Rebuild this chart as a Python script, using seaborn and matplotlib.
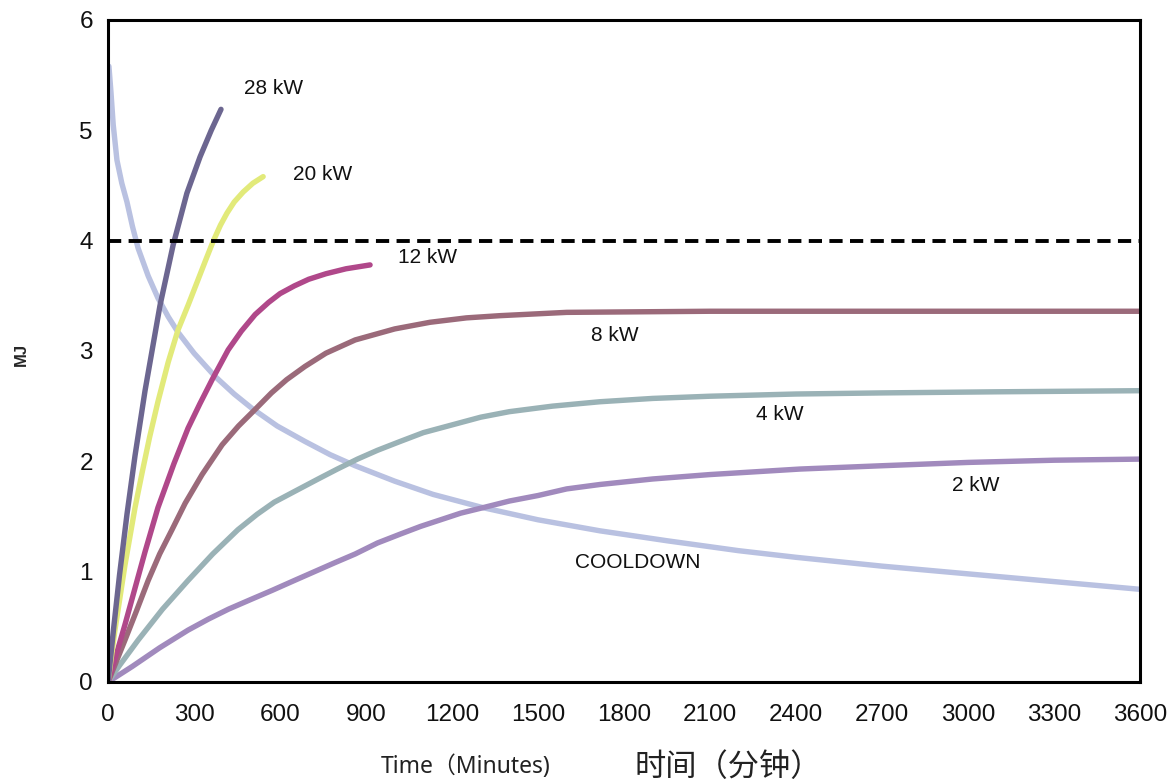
import matplotlib
matplotlib.use("Agg")
import matplotlib.pyplot as plt
import seaborn as sns
import pandas as pd

# Values (time in minutes, energy in MJ)
t_28kw = [0, 20, 40, 66, 94, 129, 181, 227, 275, 321, 360, 394]
mj_28kw = [0, 0.50, 0.97, 1.52, 2.05, 2.64, 3.41, 3.96, 4.43, 4.76, 5.00, 5.19]

t_20kw = [0, 24, 59, 94, 119, 145, 174, 210, 244, 280, 310, 340, 366, 392, 415, 440, 471, 505, 541]
mj_20kw = [0, 0.47, 1.06, 1.58, 1.90, 2.22, 2.54, 2.90, 3.19, 3.42, 3.62, 3.82, 3.99, 4.14, 4.25,
           4.35, 4.44, 4.52, 4.58]

t_12kw = [0, 30, 59, 95, 129, 174, 230, 279, 320, 363, 419, 465, 513, 560, 600, 650, 700, 760, 830, 914]
mj_12kw = [0, 0.26, 0.52, 0.86, 1.18, 1.58, 1.98, 2.30, 2.52, 2.74, 3.01, 3.18, 3.33, 3.44, 3.52,
           3.59, 3.65, 3.70, 3.745, 3.78]

t_8kw = [0, 59, 100, 140, 180, 223, 269, 328, 398, 455, 513, 570, 623, 687, 760, 862, 1000, 1123,
         1250, 1367, 1600, 2100, 3600]
mj_8kw = [0, 0.38, 0.65, 0.92, 1.16, 1.38, 1.62, 1.88, 2.15, 2.32, 2.47, 2.62, 2.74, 2.86, 2.98,
          3.10, 3.20, 3.26, 3.30, 3.32, 3.35, 3.36, 3.36]

t_4kw = [0, 40, 105, 190, 279, 365, 453, 520, 580, 660, 733, 800, 870, 940, 1019, 1100, 1200, 1300,
         1400, 1550, 1716, 1900, 2100, 2400, 2700, 3100, 3600]
mj_4kw = [0, 0.15, 0.38, 0.66, 0.92, 1.16, 1.38, 1.52, 1.63, 1.74, 1.84, 1.93, 2.02, 2.10, 2.18,
          2.26, 2.33, 2.40, 2.45, 2.50, 2.54, 2.57, 2.59, 2.61, 2.62, 2.63, 2.64]

t_2kw = [0, 84, 180, 279, 350, 420, 500, 572, 650, 720, 790, 862, 940, 1019, 1090, 1160, 1230, 1308,
         1400, 1500, 1600, 1716, 1900, 2100, 2414, 2700, 3000, 3300, 3600]
mj_2kw = [0, 0.14, 0.31, 0.47, 0.57, 0.66, 0.75, 0.83, 0.92, 1.00, 1.08, 1.16, 1.26, 1.34, 1.41,
          1.47, 1.53, 1.58, 1.64, 1.69, 1.75, 1.79, 1.84, 1.88, 1.93, 1.96, 1.99, 2.01, 2.02]

t_cool = [3, 10, 18, 31, 48, 66, 85, 105, 140, 174, 210, 244, 300, 373, 440, 502, 590, 687, 775, 862,
          1000, 1134, 1308, 1500, 1716, 1950, 2200, 2400, 2700, 3000, 3300, 3600]
mj_cool = [5.58, 5.35, 5.05, 4.73, 4.52, 4.35, 4.13, 3.93, 3.68, 3.48, 3.31, 3.17, 2.98, 2.77, 2.61,
           2.48, 2.32, 2.18, 2.06, 1.96, 1.82, 1.70, 1.58, 1.47, 1.37, 1.28, 1.19, 1.13, 1.05, 0.98,
           0.91, 0.84]

limit_mj = 4.0

series_names = ["28 kW", "20 kW", "12 kW", "8 kW", "4 kW", "2 kW", "COOLDOWN"]
series_t = [t_28kw, t_20kw, t_12kw, t_8kw, t_4kw, t_2kw, t_cool]
series_mj = [mj_28kw, mj_20kw, mj_12kw, mj_8kw, mj_4kw, mj_2kw, mj_cool]

colors = {"28 kW": "#6c6690", "20 kW": "#e2ea7a", "12 kW": "#b0488a",
          "8 kW": "#9b6a7a", "4 kW": "#9ab2b6", "2 kW": "#a18abd",
          "COOLDOWN": "#b9c1e1"}

# label anchor points (minutes, MJ)
label_pos = {"28 kW": (576, 5.38), "20 kW": (747, 4.60), "12 kW": (1116, 3.85),
             "8 kW": (1769, 3.14), "4 kW": (2344, 2.42), "2 kW": (3028, 1.78),
             "COOLDOWN": (1849, 1.08)}

rows = []
for name, ts, ms in zip(series_names, series_t, series_mj):
    for t, m in zip(ts, ms):
        rows.append({"curve": name, "Time": t, "MJ": m})
df = pd.DataFrame(rows)

sns.set_style("white")
plt.rcParams['font.family'] = ['Liberation Sans', 'Noto Sans CJK SC', 'DejaVu Sans']

fig = plt.figure(figsize=(11.72, 7.83), dpi=100)
ax = fig.add_axes([0.0922, 0.129, 0.8805, 0.8455])

# cooldown drawn first so the heating curves sit on top of it
for name in ["COOLDOWN", "2 kW", "4 kW", "8 kW", "12 kW", "20 kW", "28 kW"]:
    sub = df[df["curve"] == name]
    sns.lineplot(data=sub, x="Time", y="MJ", sort=False, estimator=None,
                 color=colors[name], linewidth=3.9, ax=ax,
                 solid_capstyle='round', solid_joinstyle='round', legend=False)

ax.axhline(limit_mj, color='black', linestyle=(0, (3.4, 1.9)), linewidth=2.8)

for name in series_names:
    x, y = label_pos[name]
    ax.text(x, y, name, fontsize=15, ha='center', va='center', color='#111111')

ax.set_xlim(0, 3600)
ax.set_ylim(0, 6)
ax.set_xticks(range(0, 3601, 300))
ax.set_yticks(range(0, 7))
ax.set_xlabel("")
ax.set_ylabel("")
for s in ax.spines.values():
    s.set_color('black')
    s.set_linewidth(2.2)
ax.tick_params(axis='both', which='major', direction='out', length=7, width=2,
               color='black', labelsize=17.5, labelcolor='#111111')
ax.tick_params(axis='x', pad=9)
ax.tick_params(axis='y', pad=4)
ax.grid(False)

fig.text(0.018, 0.547, "MJ", rotation=90, fontsize=12, fontweight='bold',
         ha='center', va='center')
fig.text(0.397, 0.021, "Time（Minutes)", fontsize=16.5,
         family=['Noto Sans', 'Noto Sans CJK SC'], ha='center', va='center',
         color='#222222')
fig.text(0.621, 0.021, "时间（分钟）", fontsize=22.5,
         family=['Noto Sans CJK SC', 'DejaVu Sans'], ha='center', va='center',
         color='#222222')

fig.savefig("out.png", dpi=100)
